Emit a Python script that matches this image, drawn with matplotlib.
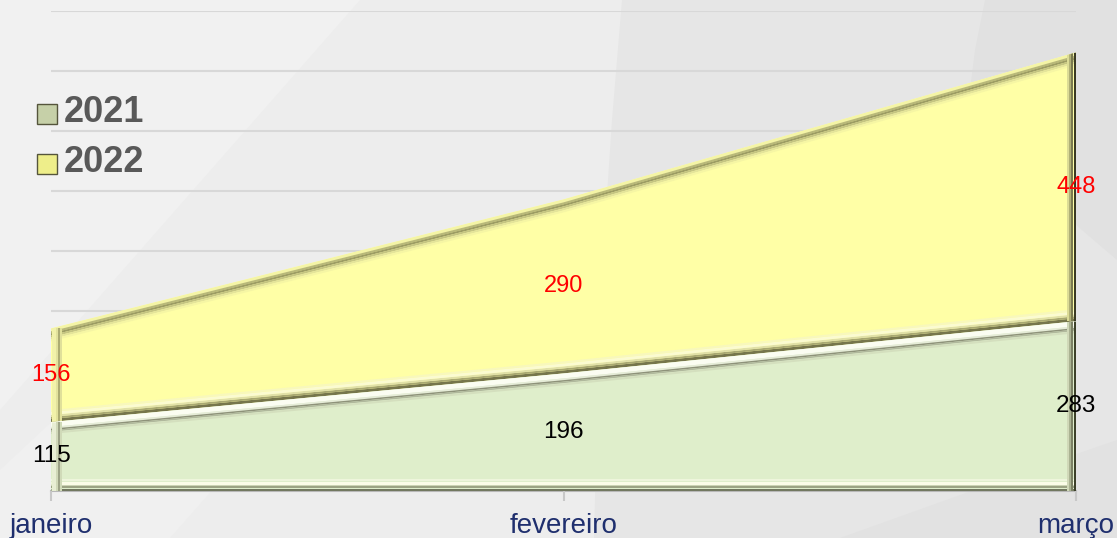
import numpy as np
import matplotlib.pyplot as plt
from matplotlib.patches import Polygon
from matplotlib.transforms import ScaledTranslation

# dados
meses = ['janeiro', 'fevereiro', 'março']
v2021 = [115, 196, 283]
v2022 = [156, 290, 448]
series = ['2021', '2022']

x = np.arange(len(meses))
base = np.zeros(len(meses))
top21 = np.array(v2021, dtype=float)
top22 = top21 + np.array(v2022, dtype=float)

W, H = 1117, 538
fig = plt.figure(figsize=(W / 100, H / 100), dpi=100)
fig.patch.set_facecolor('#ededed')


def fundo(pts, cor, z=-2):
    # pontos em pixels (origem no canto superior esquerdo)
    verts = [(px / W, 1 - py / H) for px, py in pts]
    fig.patches.append(Polygon(verts, closed=True, transform=fig.transFigure,
                               facecolor=cor, edgecolor='none', zorder=z))


fundo([(0, 0), (360, 0), (0, 410)], '#f1f1f1')
fundo([(0, 538), (0, 470), (150, 330), (230, 470), (170, 538)], '#f0f0f0')
fundo([(622, 0), (1117, 0), (1117, 538), (594, 538), (600, 300), (612, 120)], '#e6e6e6')
fundo([(985, 0), (1117, 0), (1117, 260), (965, 130), (975, 50)], '#e1e1e1', z=-1)
fundo([(840, 538), (1117, 538), (1117, 440), (1030, 470)], '#e2e2e2', z=-1)

ax = fig.add_axes([51 / W, 1 - 491 / H, 1025 / W, 480 / H])
ax.set_facecolor('none')
ax.set_xlim(0, 2)
ax.set_ylim(0, 800)

for y in range(100, 801, 100):
    ax.axhline(y, color='#d8d8d8', lw=1.5, zorder=0)


def faixa(xs, ys, dx, dy, cor, w, clip):
    tr = ax.transData + ScaledTranslation(dx / 100, -dy / 100, fig.dpi_scale_trans)
    ln, = ax.plot(xs, ys, color=cor, lw=w * 0.72, transform=tr, zorder=3,
                  solid_capstyle='butt')
    ln.set_clip_path(clip)


def area(lower, upper, face, topo, baixo, esq, dir_):
    verts = list(zip(x, upper)) + list(zip(x[::-1], lower[::-1]))
    clip = Polygon(verts, closed=True, facecolor=face, edgecolor='none', zorder=2)
    ax.add_patch(clip)
    for dy, cor, w in topo:
        faixa(x, upper, 0, dy, cor, w, clip)
    for dy, cor, w in baixo:
        faixa(x, lower, 0, -dy, cor, w, clip)
    for dx, cor, w in esq:
        faixa([x[0], x[0]], [lower[0], upper[0]], dx, 0, cor, w, clip)
    for dx, cor, w in dir_:
        faixa([x[-1], x[-1]], [lower[-1], upper[-1]], -dx, 0, cor, w, clip)


# 2022 (amarelo)
area(top21, top22, '#ffffa6',
     topo=[(1.5, '#f4f4a6', 3), (4, '#b8b87a', 2), (6, '#9c9c64', 2),
           (8, '#c4c482', 2), (10, '#e4e49a', 2), (12, '#f6f6a4', 2)],
     baixo=[(1.5, '#76764c', 3), (4, '#a8a872', 2), (6, '#e0e0a8', 2),
            (8.5, '#fbfbd0', 3), (11, '#f8f8bc', 2)],
     esq=[(2.5, '#f2f2aa', 5), (6, '#e2e29c', 2), (8, '#acac72', 2), (10, '#e0e09a', 2)],
     dir_=[(1.5, '#3a3a24', 3), (4, '#7a7a50', 2), (6, '#b0b076', 2), (8, '#dcdc96', 2)])

# 2021 (verde)
area(base, top21, '#dfeecb',
     topo=[(2.5, '#fbfdf2', 5), (6, '#e6ecd8', 2), (7.5, '#8e927a', 1.5),
           (9, '#b0b89c', 1.5), (11, '#d4dfbe', 2)],
     baixo=[(1.5, '#727860', 3), (4, '#9ca484', 2), (6, '#ccd4b4', 2),
            (8.5, '#fbfde8', 3), (11, '#eef5dc', 2)],
     esq=[(2.5, '#e8eed4', 5), (6, '#d0d8b8', 2), (8, '#9ca286', 2), (10, '#d0dab8', 2)],
     dir_=[(1.5, '#3c402a', 3), (4, '#7a8064', 2), (6, '#aab292', 2), (8, '#d0d8b8', 2)])

# rótulos
for i in range(len(meses)):
    ax.text(x[i], top21[i] / 2, str(v2021[i]), ha='center', va='center',
            fontsize=17.5, color='black', family='Liberation Sans', zorder=6)
    ax.text(x[i], top21[i] + v2022[i] / 2, str(v2022[i]), ha='center', va='center',
            fontsize=17, color='red', family='Liberation Sans', zorder=6)

ax.set_xticks(x)
ax.set_xticklabels(meses, fontsize=20, color='#1f2f6e', family='Liberation Sans')
ax.set_yticks([])
ax.tick_params(axis='x', length=7, color='#c8c8c8', width=1.5, pad=9)
for s in ['top', 'right', 'left']:
    ax.spines[s].set_visible(False)
ax.spines['bottom'].set_color('#b8b8b8')
ax.spines['bottom'].set_linewidth(1.5)
ax.spines['bottom'].set_zorder(1)

# legenda
leg_cols = ['#c6d0a8', '#eeee8a']
leg_y = [114, 164]
for nome, cor, py in zip(series, leg_cols, leg_y):
    x0, x1, y0, y1 = 37, 57, py - 10, py + 10
    fig.patches.append(Polygon([(x0 / W, 1 - y1 / H), (x1 / W, 1 - y1 / H),
                                (x1 / W, 1 - y0 / H), (x0 / W, 1 - y0 / H)],
                               closed=True, transform=fig.transFigure,
                               facecolor=cor, edgecolor='#55553c', lw=1.0, zorder=5))
    fig.text(64 / W, 1 - (py - 2) / H, nome, fontsize=26, fontweight='bold',
             color='#595959', va='center', ha='left', family='Liberation Sans')

fig.savefig('out.png', dpi=100, facecolor=fig.get_facecolor())
